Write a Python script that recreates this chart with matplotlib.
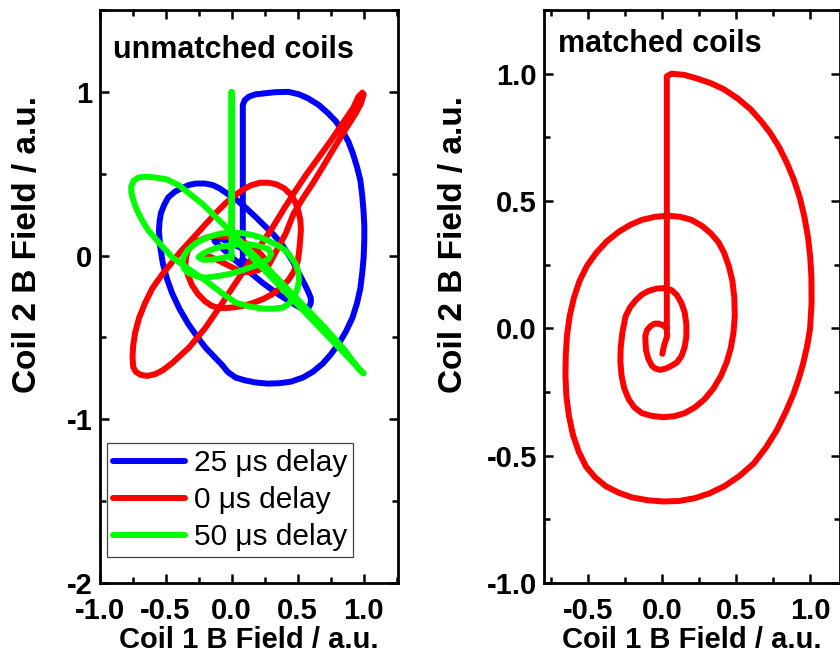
import numpy as np
import matplotlib.pyplot as plt
from matplotlib.ticker import MultipleLocator, FormatStrFormatter

plt.rcParams['font.family'] = ['Liberation Sans', 'DejaVu Sans']

# 25 us delay (blue), unmatched coils
blue_x = [0.085, 0.085, 0.1, 0.13, 0.18, 0.24, 0.33, 0.43, 0.51, 0.58, 0.66, 0.73, 0.79,
          0.84, 0.885, 0.92, 0.95, 0.975, 0.99, 1.0, 1.005, 1.005, 1.0, 0.99, 0.975, 0.95,
          0.915, 0.865, 0.81, 0.75, 0.69, 0.615, 0.54, 0.45, 0.36, 0.27, 0.18, 0.1, 0.03,
          -0.03, -0.07, -0.135, -0.2, -0.265, -0.33, -0.395, -0.45, -0.49, -0.52, -0.54,
          -0.55, -0.545, -0.535, -0.51, -0.48, -0.43, -0.37, -0.32, -0.27, -0.2, -0.14,
          -0.09, -0.045, 0.0, 0.045, 0.11, 0.17, 0.24, 0.31, 0.37, 0.42, 0.47, 0.51, 0.55,
          0.58, 0.6, 0.6, 0.585, 0.56, 0.52, 0.48, 0.42, 0.36, 0.3, 0.24, 0.18, 0.12, 0.06,
          0.0, -0.05, -0.1, -0.13, -0.125, -0.07, -0.02, 0.05, 0.1, 0.16, 0.2, 0.235, 0.235,
          0.2, 0.15, 0.11, 0.08]
blue_y = [0.0, 0.92, 0.95, 0.97, 0.985, 0.99, 0.998, 1.0, 0.985, 0.96, 0.92, 0.87, 0.82,
          0.76, 0.695, 0.62, 0.54, 0.46, 0.36, 0.26, 0.18, 0.1, -0.01, -0.1, -0.2, -0.29,
          -0.38, -0.465, -0.54, -0.605, -0.66, -0.71, -0.745, -0.77, -0.78, -0.782, -0.775,
          -0.762, -0.745, -0.71, -0.67, -0.615, -0.56, -0.49, -0.415, -0.325, -0.23, -0.14,
          -0.05, 0.05, 0.15, 0.21, 0.26, 0.31, 0.355, 0.39, 0.415, 0.432, 0.44, 0.44, 0.43,
          0.41, 0.385, 0.36, 0.335, 0.29, 0.245, 0.19, 0.135, 0.08, 0.02, -0.045, -0.11,
          -0.17, -0.22, -0.26, -0.29, -0.315, -0.325, -0.318, -0.3, -0.27, -0.24, -0.205,
          -0.17, -0.13, -0.09, -0.05, -0.01, 0.03, 0.065, 0.09, 0.11, 0.1, 0.08, 0.055,
          0.035, 0.01, -0.01, -0.04, -0.065, -0.08, -0.065, -0.04, -0.02]

# 0 us delay (red), unmatched coils
red_x = [0.28, 0.34, 0.41, 0.47, 0.54, 0.614, 0.69, 0.765, 0.85, 0.94, 0.98, 1.0, 0.99,
         0.96, 0.92, 0.84, 0.75, 0.66, 0.57, 0.485, 0.4, 0.31, 0.18, 0.053, -0.07, -0.197,
         -0.32, -0.447, -0.52, -0.58, -0.64, -0.69, -0.725, -0.745, -0.75, -0.745, -0.73,
         -0.7, -0.655, -0.6, -0.53, -0.45, -0.38, -0.3, -0.21, -0.12, -0.045, 0.03, 0.09,
         0.15, 0.215, 0.28, 0.34, 0.4, 0.445, 0.48, 0.505, 0.52, 0.525, 0.52, 0.512, 0.5,
         0.47, 0.43, 0.375, 0.31, 0.24, 0.16, 0.1, 0.03, -0.04, -0.1, -0.155, -0.2, -0.255,
         -0.3, -0.33, -0.35, -0.345, -0.33, -0.295, -0.25, -0.19, -0.12, -0.06, 0.0, 0.06,
         0.12, 0.175, 0.22, 0.25, 0.26, 0.24, 0.2, 0.15, 0.1, 0.05, 0.0, -0.05, -0.1, -0.14,
         -0.17, -0.19]
red_y = [-0.06, 0.03, 0.135, 0.257, 0.35, 0.44, 0.54, 0.642, 0.755, 0.869, 0.93, 0.985,
         0.995, 0.97, 0.9, 0.807, 0.7, 0.6, 0.5, 0.398, 0.29, 0.171, 0.015, -0.14, -0.29,
         -0.44, -0.56, -0.655, -0.7, -0.725, -0.735, -0.728, -0.71, -0.68, -0.62, -0.55,
         -0.47, -0.38, -0.29, -0.2, -0.12, -0.04, 0.03, 0.1, 0.18, 0.26, 0.32, 0.37, 0.405,
         0.43, 0.445, 0.445, 0.435, 0.41, 0.375, 0.33, 0.275, 0.22, 0.16, 0.1, 0.03, -0.04,
         -0.1, -0.15, -0.195, -0.235, -0.265, -0.29, -0.305, -0.315, -0.32, -0.32, -0.305,
         -0.28, -0.235, -0.18, -0.12, -0.06, -0.01, 0.03, 0.065, 0.09, 0.11, 0.12, 0.118,
         0.11, 0.095, 0.07, 0.04, 0.01, -0.02, -0.05, -0.075, -0.09, -0.1, -0.1, -0.09,
         -0.07, -0.05, -0.03, -0.015, -0.005, 0.0]

# 50 us delay (green), unmatched coils
green_x = [0.0, 0.0, 0.0, 1.0, 0.97, 0.85, 0.7, 0.55, 0.42, 0.3, 0.2, 0.1, 0.0, -0.1, -0.22,
           -0.4, -0.49, -0.576, -0.65, -0.705, -0.74, -0.76, -0.758, -0.75, -0.73, -0.705,
           -0.67, -0.63, -0.54, -0.447, -0.32, -0.197, -0.08, 0.03, 0.13, 0.235, 0.31, 0.386,
           0.44, 0.47, 0.5, 0.51, 0.505, 0.485, 0.45, 0.41, 0.35, 0.28, 0.22, 0.16, 0.08,
           0.0, -0.08, -0.15, -0.22, -0.28, -0.33, -0.36, -0.372, -0.36, -0.33, -0.27, -0.2,
           -0.1, 0.0, 0.08, 0.15, 0.22, 0.28, 0.3, 0.28, 0.2, 0.12, 0.05, -0.03, -0.1, -0.17,
           -0.22, -0.25, -0.22, -0.15, -0.07, 0.0]
green_y = [-0.02, 1.0, 0.12, -0.72, -0.7, -0.57, -0.435, -0.31, -0.2, -0.1, -0.02, 0.06,
           0.14, 0.22, 0.315, 0.43, 0.465, 0.477, 0.482, 0.477, 0.458, 0.42, 0.385, 0.355,
           0.305, 0.257, 0.205, 0.153, 0.07, -0.012, -0.085, -0.153, -0.225, -0.287, -0.31,
           -0.324, -0.325, -0.318, -0.29, -0.257, -0.2, -0.15, -0.1, -0.05, -0.01, 0.03,
           0.062, 0.09, 0.11, 0.125, 0.137, 0.14, 0.135, 0.12, 0.098, 0.07, 0.035, 0.0,
           -0.04, -0.08, -0.105, -0.125, -0.135, -0.125, -0.11, -0.09, -0.07, -0.05, -0.02,
           0.01, 0.04, 0.06, 0.07, 0.07, 0.06, 0.05, 0.03, 0.01, -0.01, -0.025, -0.025,
           -0.015, 0.0]

# matched coils (red spiral)
matched_x = [0.03, 0.03, 0.062, 0.15, 0.24, 0.33, 0.418, 0.51, 0.596, 0.665, 0.729, 0.788,
             0.84, 0.888, 0.929, 0.96, 0.984, 0.999, 1.007, 1.008, 0.998, 0.978, 0.95, 0.92,
             0.884, 0.832, 0.773, 0.7, 0.618, 0.52, 0.418, 0.318, 0.218, 0.112, 0.007, -0.1,
             -0.204, -0.297, -0.382, -0.455, -0.516, -0.565, -0.604, -0.632, -0.649, -0.655,
             -0.653, -0.645, -0.627, -0.598, -0.56, -0.51, -0.449, -0.375, -0.293, -0.215,
             -0.138, -0.05, 0.04, 0.12, 0.196, 0.268, 0.329, 0.38, 0.418, 0.45, 0.473, 0.486,
             0.489, 0.48, 0.462, 0.434, 0.396, 0.345, 0.284, 0.22, 0.151, 0.08, 0.007, -0.07,
             -0.138, -0.19, -0.227, -0.258, -0.276, -0.284, -0.282, -0.27, -0.249, -0.218,
             -0.182, -0.14, -0.093, -0.04, 0.018, 0.062, 0.096, 0.128, 0.151, 0.162, 0.162,
             0.15, 0.129, 0.098, 0.062, 0.022, -0.016, -0.047, -0.071, -0.095, -0.111,
             -0.116, -0.105, -0.082, -0.055, -0.027, 0.005, 0.029, 0.032, 0.015, 0.007, 0.0]
matched_y = [0.0, 0.99, 1.0, 0.995, 0.98, 0.962, 0.938, 0.902, 0.86, 0.815, 0.767, 0.712,
             0.651, 0.584, 0.512, 0.436, 0.357, 0.278, 0.2, 0.1, 0.0, -0.07, -0.14, -0.2,
             -0.26, -0.33, -0.40, -0.468, -0.53, -0.58, -0.62, -0.648, -0.667, -0.678, -0.68,
             -0.675, -0.664, -0.645, -0.62, -0.585, -0.543, -0.485, -0.419, -0.343, -0.264,
             -0.186, -0.109, -0.03, 0.047, 0.12, 0.186, 0.245, 0.295, 0.342, 0.38, 0.407,
             0.426, 0.438, 0.442, 0.438, 0.426, 0.402, 0.372, 0.337, 0.295, 0.242, 0.186,
             0.12, 0.047, -0.018, -0.078, -0.134, -0.186, -0.236, -0.279, -0.31, -0.333,
             -0.345, -0.349, -0.344, -0.333, -0.31, -0.279, -0.236, -0.186, -0.13, -0.078,
             -0.015, 0.047, 0.083, 0.109, 0.132, 0.147, 0.156, 0.158, 0.15, 0.132, 0.1, 0.062,
             0.015, -0.031, -0.075, -0.109, -0.134, -0.147, -0.158, -0.163, -0.158, -0.147,
             -0.12, -0.085, -0.031, -0.008, 0.008, 0.018, 0.019, 0.012, 0.0, -0.031, -0.06,
             -0.078, -0.1]

W, H = 840, 666
fig = plt.figure(figsize=(W / 100, H / 100), dpi=100)
ax1 = fig.add_axes([99.5 / W, 83 / H, 298.5 / W, 573 / H])
ax2 = fig.add_axes([544 / W, 83 / H, 296 / W, 573 / H])

lw = 4.3
style = dict(lw=lw, solid_joinstyle='round', solid_capstyle='round')
ax1.plot(blue_x, blue_y, color='#0000ff', label='25 \u03bcs delay', **style)
ax1.plot(red_x, red_y, color='#ff0000', label='0 \u03bcs delay', **style)
ax1.plot(green_x, green_y, color='#00ff00', label='50 \u03bcs delay', **style)
ax2.plot(matched_x, matched_y, color='#ff0000', **style)

ax1.set_xlim(-1.0, 1.26)
ax1.set_ylim(-2.0, 1.5)
ax1.xaxis.set_major_locator(MultipleLocator(0.5))
ax1.xaxis.set_minor_locator(MultipleLocator(0.25))
ax1.yaxis.set_major_locator(MultipleLocator(1))
ax1.yaxis.set_minor_locator(MultipleLocator(0.5))
ax1.xaxis.set_major_formatter(FormatStrFormatter('%.1f'))
ax1.yaxis.set_major_formatter(FormatStrFormatter('%d'))

ax2.set_xlim(-0.8, 1.2)
ax2.set_ylim(-1.0, 1.25)
ax2.xaxis.set_major_locator(MultipleLocator(0.5))
ax2.xaxis.set_minor_locator(MultipleLocator(0.25))
ax2.yaxis.set_major_locator(MultipleLocator(0.5))
ax2.yaxis.set_minor_locator(MultipleLocator(0.25))
ax2.xaxis.set_major_formatter(FormatStrFormatter('%.1f'))
ax2.yaxis.set_major_formatter(FormatStrFormatter('%.1f'))

for ax in (ax1, ax2):
    for s in ax.spines.values():
        s.set_linewidth(2.0)
    ax.tick_params(which='both', direction='in', top=True, right=True, width=1.8)
    ax.tick_params(which='major', length=6.5, labelsize=21)
    ax.tick_params(axis='x', which='major', pad=10)
    ax.tick_params(axis='y', which='major', pad=5)
    ax.tick_params(which='minor', length=4)
    for t in ax.get_xticklabels():
        t.set_fontweight('bold')
    for t in ax.get_yticklabels():
        t.set_fontweight('bold')
        t.set_verticalalignment('center_baseline')
    ax.set_xlabel('Coil 1 B Field / a.u.', fontsize=21, fontweight='bold', labelpad=1)
    ax.set_ylabel('Coil 2 B Field / a.u.', fontsize=24, fontweight='bold')

ax1.yaxis.set_label_coords(-0.19, 0.59)
ax2.yaxis.set_label_coords(-0.255, 0.59)

ax1.text(0.045, 0.957, 'unmatched coils', transform=ax1.transAxes, fontsize=22,
         fontweight='bold', va='top', ha='left')
ax2.text(0.047, 0.966, 'matched coils', transform=ax2.transAxes, fontsize=22,
         fontweight='bold', va='top', ha='left')

leg = ax1.legend(loc='lower left', bbox_to_anchor=(0.025, 0.045), fontsize=21.5,
                 handlelength=2.4, handletextpad=0.3, borderpad=0.2,
                 labelspacing=0.3, fancybox=False, framealpha=1, borderaxespad=0)
leg.get_frame().set_edgecolor('#444444')
leg.get_frame().set_linewidth(0.9)

fig.savefig('out.png', dpi=100)
